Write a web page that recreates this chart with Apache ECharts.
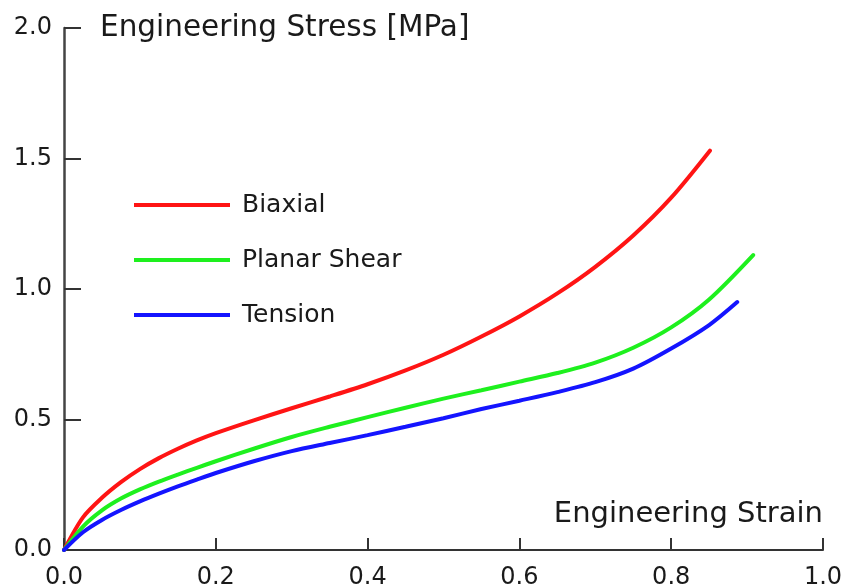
<!DOCTYPE html>
<html>
<head>
<meta charset="utf-8">
<script src="https://cdn.jsdelivr.net/npm/echarts@6/dist/echarts.min.js"></script>
<style>
html,body{margin:0;padding:0;background:#fff;}
#chart{width:842px;height:587px;}
</style>
</head>
<body>
<div id="chart"></div>
<script>
var seriesNames = ['Biaxial', 'Planar Shear', 'Tension'];
var xTicks = [0, 0.2, 0.4, 0.6, 0.8, 1.0];
var yTicks = [0, 0.5, 1.0, 1.5, 2.0];

var biaxial = [
  [0,0],[0.025,0.125],[0.05,0.2],[0.075,0.26],[0.1,0.31],[0.125,0.352],[0.15,0.388],[0.175,0.42],
  [0.2,0.448],[0.25,0.497],[0.3,0.543],[0.35,0.588],[0.4,0.635],[0.45,0.688],[0.5,0.748],
  [0.55,0.818],[0.6,0.895],[0.65,0.983],[0.7,1.085],[0.75,1.205],[0.8,1.35],[0.851,1.53]
];
var planarShear = [
  [0,0],[0.025,0.09],[0.05,0.152],[0.075,0.197],[0.1,0.232],[0.125,0.262],[0.15,0.289],[0.175,0.315],
  [0.2,0.34],[0.25,0.388],[0.3,0.433],[0.35,0.472],[0.4,0.509],[0.45,0.545],[0.5,0.58],
  [0.55,0.612],[0.6,0.645],[0.65,0.678],[0.7,0.718],[0.75,0.775],[0.8,0.853],[0.85,0.96],[0.908,1.13]
];
var tension = [
  [0,0],[0.025,0.068],[0.05,0.115],[0.075,0.153],[0.1,0.186],[0.125,0.216],[0.15,0.244],[0.175,0.27],
  [0.2,0.295],[0.25,0.34],[0.3,0.379],[0.35,0.41],[0.4,0.44],[0.45,0.472],[0.5,0.505],
  [0.55,0.54],[0.6,0.572],[0.65,0.605],[0.7,0.643],[0.75,0.695],[0.8,0.772],[0.85,0.862],[0.887,0.95]
];
var seriesData = [biaxial, planarShear, tension];
var colors = ['#ff1414', '#1ef01e', '#1414ff'];

var FONT = 'DejaVu Sans';
var chart = echarts.init(document.getElementById('chart'), null, {renderer: 'canvas'});

var option = {
  backgroundColor: '#ffffff',
  animation: false,
  grid: {left: 64, right: 19, top: 28, bottom: 37, containLabel: false, outerBoundsMode: 'none'},
  legend: {
    orient: 'vertical',
    left: 134,
    top: 190,
    padding: 0,
    itemWidth: 96,
    itemHeight: 4,
    itemGap: 25,
    icon: 'rect',
    data: seriesNames,
    textStyle: {fontFamily: FONT, fontSize: 25, lineHeight: 30, color: '#1a1a1a', padding: [0, 0, 0, 7]}
  },
  xAxis: {
    type: 'value',
    min: xTicks[0],
    max: xTicks[xTicks.length - 1],
    interval: 0.2,
    name: 'Engineering Strain',
    nameLocation: 'end',
    nameGap: 0,
    nameTextStyle: {fontFamily: FONT, fontSize: 29, lineHeight: 32, color: '#1a1a1a', align: 'right', verticalAlign: 'bottom', padding: [0, 0, 20, 0]},
    axisLine: {show: true, lineStyle: {color: '#333', width: 2}},
    axisTick: {show: true, inside: true, length: 12, lineStyle: {color: '#333', width: 2}},
    axisLabel: {fontFamily: FONT, fontSize: 24, color: '#1a1a1a', margin: 16, formatter: function (v) { return v.toFixed(1); }},
    splitLine: {show: false}
  },
  yAxis: {
    type: 'value',
    min: yTicks[0],
    max: yTicks[yTicks.length - 1],
    interval: 0.5,
    name: 'Engineering Stress [MPa]',
    nameLocation: 'end',
    nameGap: 0,
    nameTextStyle: {fontFamily: FONT, fontSize: 29.5, lineHeight: 32, color: '#1a1a1a', align: 'left', verticalAlign: 'middle', padding: [0, 0, 0, 36]},
    axisLine: {show: true, lineStyle: {color: '#444', width: 2.5}},
    axisTick: {show: true, inside: true, length: 17, lineStyle: {color: '#333', width: 2}},
    axisLabel: {fontFamily: FONT, fontSize: 24, color: '#1a1a1a', margin: 12, formatter: function (v) { return v.toFixed(1); }},
    splitLine: {show: false}
  },
  series: seriesNames.map(function (n, i) {
    return {
      name: n,
      type: 'line',
      data: seriesData[i],
      smooth: 0.3,
      showSymbol: false,
      color: colors[i],
      lineStyle: {color: colors[i], width: 4, cap: 'round'}
    };
  })
};
chart.setOption(option);
</script>
</body>
</html>
